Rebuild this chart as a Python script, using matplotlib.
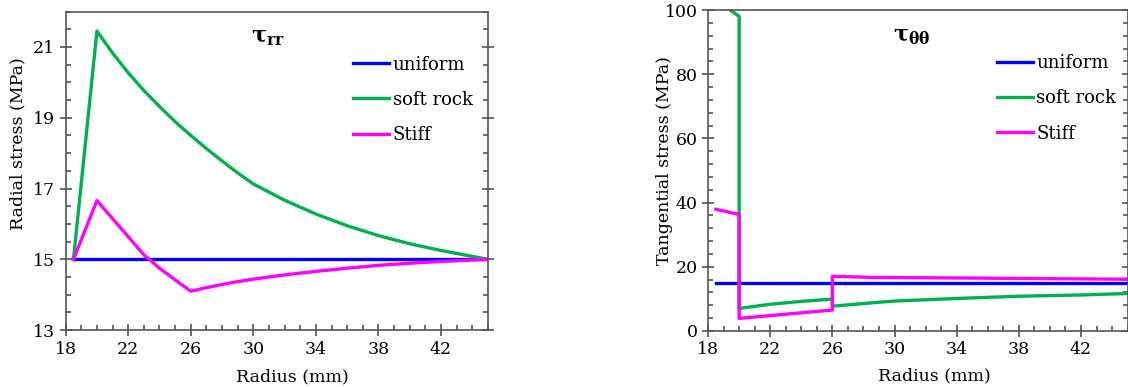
import matplotlib.pyplot as plt

# radial stress (left panel)
rr_x = [18.5, 20, 21, 22, 23, 24, 25, 26, 27, 28, 29, 30, 32, 34, 36, 38, 40, 42, 45]
rr_uniform = [15.0] * len(rr_x)
rr_soft = [15.0, 21.45, 20.83, 20.27, 19.77, 19.32, 18.89, 18.5, 18.13, 17.78,
           17.44, 17.13, 16.67, 16.28, 15.95, 15.67, 15.44, 15.25, 15.0]
rr_stiff = [15.0, 16.66, 16.15, 15.64, 15.13, 14.75, 14.42, 14.1, 14.2, 14.29,
            14.37, 14.44, 14.56, 14.66, 14.75, 14.83, 14.89, 14.94, 15.0]

# tangential stress (right panel), jumps at r = 20 and r = 26
tt_uni_x = [18.5, 45]
tt_uniform = [15.0, 15.0]
tt_soft_x = [18.5, 20, 20, 22, 24, 26, 26, 28.8, 30, 34, 38, 42, 45]
tt_soft = [103.3, 98.0, 7.0, 8.3, 9.2, 9.9, 7.7, 8.85, 9.3, 10.1, 10.8, 11.2, 11.65]
tt_stiff_x = [18.5, 20, 20, 26, 26, 28.8, 34, 38, 42, 45]
tt_stiff = [37.9, 36.3, 3.9, 6.5, 17.0, 16.65, 16.5, 16.35, 16.2, 16.1]

labels = ["uniform", "soft rock", "Stiff"]
colors = ["#0000ff", "#00b050", "#ff00ff"]
x_ticks = [18, 22, 26, 30, 34, 38, 42]

plt.rcParams["font.family"] = ["DejaVu Serif"]
plt.rcParams["mathtext.fontset"] = "dejavuserif"

fig = plt.figure(figsize=(11.28, 3.87), dpi=100)
ax1 = fig.add_axes([0.0582, 0.147, 0.3744, 0.823])
ax2 = fig.add_axes([0.6277, 0.145, 0.372, 0.829])


def style(ax, yticks, yminor):
    ax.set_xticks(x_ticks)
    ax.set_xticks([v for v in range(18, 46) if v not in x_ticks], minor=True)
    ax.set_yticks(yticks)
    ax.set_yticks(yminor, minor=True)
    ax.tick_params(which="major", direction="inout", length=8, width=1.1,
                   color="#444444", labelsize=12.5, right=True, top=False)
    ax.tick_params(which="minor", direction="in", length=3.5, width=1.1,
                   color="#444444", right=True, top=False)
    for s in ax.spines.values():
        s.set_color("#555555")
        s.set_linewidth(1.2)
    ax.set_xlabel("Radius (mm)", fontsize=12.5)


def add_legend(ax, x0):
    ax.legend(loc="upper left", bbox_to_anchor=(x0, 0.862), frameon=False,
              fontsize=13, handlelength=2.0, handletextpad=0.2, labelspacing=0.95,
              borderpad=0, borderaxespad=0)


ys1 = [rr_uniform, rr_soft, rr_stiff]
for y, c, lab in zip(ys1, colors, labels):
    ax1.plot(rr_x, y, color=c, lw=2.4, label=lab)
ax1.set_xlim(18, 45)
ax1.set_ylim(13, 22)
style(ax1, [13, 15, 17, 19, 21], [13.5, 14, 14.5, 15.5, 16, 16.5, 17.5, 18, 18.5,
                                  19.5, 20, 20.5, 21.5, 22])
ax1.set_ylabel("Radial stress (MPa)", fontsize=12.5)
ax1.yaxis.set_label_coords(-0.094, 0.587)
ax1.xaxis.set_label_coords(0.538, -0.12)
ax1.text(0.478, 0.92, r"$\mathbf{\tau_{rr}}$", transform=ax1.transAxes,
         fontsize=16, ha="center", va="center")
add_legend(ax1, 0.68)

ax2.plot(tt_uni_x, tt_uniform, color=colors[0], lw=2.4, label=labels[0])
ax2.plot(tt_soft_x, tt_soft, color=colors[1], lw=2.4, label=labels[1])
ax2.plot(tt_stiff_x, tt_stiff, color=colors[2], lw=2.4, label=labels[2])
ax2.set_xlim(18, 45)
ax2.set_ylim(0, 100)
style(ax2, [0, 20, 40, 60, 80, 100], [v for v in range(4, 100, 4) if v % 20])
ax2.set_ylabel("Tangential stress (MPa)", fontsize=12.5)
ax2.yaxis.set_label_coords(-0.083, 0.53)
ax2.xaxis.set_label_coords(0.539, -0.115)
ax2.text(0.485, 0.92, r"$\mathbf{\tau_{\theta\theta}}$", transform=ax2.transAxes,
         fontsize=16, ha="center", va="center")
add_legend(ax2, 0.688)

fig.savefig("out.png", dpi=100)
